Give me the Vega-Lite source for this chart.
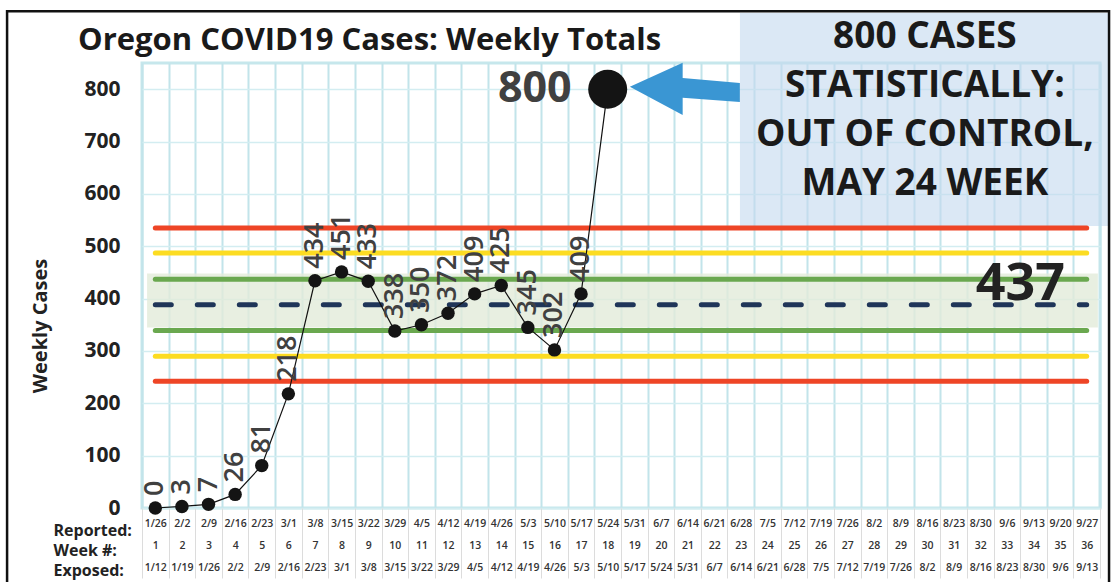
{
  "$schema": "https://vega.github.io/schema/vega-lite/v6.json",
  "width": 958,
  "height": 445,
  "autosize": {"type": "none"},
  "padding": {"left": 142, "top": 63, "right": 15, "bottom": 74},
  "background": "white",
  "title": {"text": "Oregon COVID19 Cases: Weekly Totals", "anchor": "start", "frame": "group", "dx": -64, "offset": -71, "baseline": "alphabetic", "font": "Open Sans", "fontSize": 31, "fontWeight": "bold", "color": "#1a1a1a"},
  "datasets": {
    "weeks": [
      {"week": 1, "reported": "1/26", "exposed": "1/12", "cases": 0},
      {"week": 2, "reported": "2/2", "exposed": "1/19", "cases": 3},
      {"week": 3, "reported": "2/9", "exposed": "1/26", "cases": 7},
      {"week": 4, "reported": "2/16", "exposed": "2/2", "cases": 26},
      {"week": 5, "reported": "2/23", "exposed": "2/9", "cases": 81},
      {"week": 6, "reported": "3/1", "exposed": "2/16", "cases": 218},
      {"week": 7, "reported": "3/8", "exposed": "2/23", "cases": 434},
      {"week": 8, "reported": "3/15", "exposed": "3/1", "cases": 451},
      {"week": 9, "reported": "3/22", "exposed": "3/8", "cases": 433},
      {"week": 10, "reported": "3/29", "exposed": "3/15", "cases": 338},
      {"week": 11, "reported": "4/5", "exposed": "3/22", "cases": 350},
      {"week": 12, "reported": "4/12", "exposed": "3/29", "cases": 372},
      {"week": 13, "reported": "4/19", "exposed": "4/5", "cases": 409},
      {"week": 14, "reported": "4/26", "exposed": "4/12", "cases": 425},
      {"week": 15, "reported": "5/3", "exposed": "4/19", "cases": 345},
      {"week": 16, "reported": "5/10", "exposed": "4/26", "cases": 302},
      {"week": 17, "reported": "5/17", "exposed": "5/3", "cases": 409},
      {"week": 18, "reported": "5/24", "exposed": "5/10", "cases": 800},
      {"week": 19, "reported": "5/31", "exposed": "5/17", "cases": null},
      {"week": 20, "reported": "6/7", "exposed": "5/24", "cases": null},
      {"week": 21, "reported": "6/14", "exposed": "5/31", "cases": null},
      {"week": 22, "reported": "6/21", "exposed": "6/7", "cases": null},
      {"week": 23, "reported": "6/28", "exposed": "6/14", "cases": null},
      {"week": 24, "reported": "7/5", "exposed": "6/21", "cases": null},
      {"week": 25, "reported": "7/12", "exposed": "6/28", "cases": null},
      {"week": 26, "reported": "7/19", "exposed": "7/5", "cases": null},
      {"week": 27, "reported": "7/26", "exposed": "7/12", "cases": null},
      {"week": 28, "reported": "8/2", "exposed": "7/19", "cases": null},
      {"week": 29, "reported": "8/9", "exposed": "7/26", "cases": null},
      {"week": 30, "reported": "8/16", "exposed": "8/2", "cases": null},
      {"week": 31, "reported": "8/23", "exposed": "8/9", "cases": null},
      {"week": 32, "reported": "8/30", "exposed": "8/16", "cases": null},
      {"week": 33, "reported": "9/6", "exposed": "8/23", "cases": null},
      {"week": 34, "reported": "9/13", "exposed": "8/30", "cases": null},
      {"week": 35, "reported": "9/20", "exposed": "9/6", "cases": null},
      {"week": 36, "reported": "9/27", "exposed": "9/13", "cases": null}
    ],
    "limits": [
      {"zone": "3 sigma", "limit": 535},
      {"zone": "2 sigma", "limit": 487},
      {"zone": "1 sigma", "limit": 437},
      {"zone": "mean", "limit": 388},
      {"zone": "1 sigma", "limit": 339},
      {"zone": "2 sigma", "limit": 290},
      {"zone": "3 sigma", "limit": 242}
    ]
  },
  "data": {"name": "weeks"},
  "layer": [
    {
      "data": {"values": [{}]},
      "mark": {"type": "rect", "fill": "#e2ebda", "opacity": 0.8},
      "encoding": {
        "x": {"datum": 0.69, "type": "quantitative"},
        "x2": {"datum": 36.42},
        "y": {"datum": 448, "type": "quantitative"},
        "y2": {"datum": 345}
      }
    },
    {
      "data": {"values": [{}]},
      "mark": {"type": "rect", "fill": "#c3d9ee", "opacity": 0.6},
      "encoding": {
        "x": {"datum": 22.97, "type": "quantitative"},
        "x2": {"datum": 36.8},
        "y": {"datum": 945.5, "type": "quantitative"},
        "y2": {"datum": 538.6}
      }
    },
    {
      "data": {"name": "limits"},
      "transform": [{"filter": "datum.zone != 'mean'"}],
      "mark": {"type": "rule", "strokeWidth": 5, "strokeCap": "round"},
      "encoding": {
        "x": {"datum": 1, "type": "quantitative"},
        "x2": {"datum": 36},
        "y": {"field": "limit", "type": "quantitative"},
        "color": {"field": "zone", "type": "nominal", "scale": {"domain": ["3 sigma", "2 sigma", "1 sigma"], "range": ["#ee4526", "#fcdc22", "#6aa84f"]}, "legend": null}
      }
    },
    {
      "data": {"values": [{}]},
      "mark": {"type": "text", "text": "437", "align": "right", "baseline": "alphabetic", "fontSize": 52, "fontWeight": "bold", "color": "#222222"},
      "encoding": {
        "x": {"datum": 35.18, "type": "quantitative"},
        "y": {"datum": 397.3, "type": "quantitative"}
      }
    },
    {
      "data": {"name": "limits"},
      "transform": [{"filter": "datum.zone == 'mean'"}],
      "mark": {"type": "rule", "strokeWidth": 5, "strokeCap": "round", "strokeDash": [16, 26], "color": "#1f3558"},
      "encoding": {
        "x": {"datum": 1, "type": "quantitative"},
        "x2": {"datum": 36},
        "y": {"field": "limit", "type": "quantitative"}
      }
    },
    {
      "mark": {"type": "line", "color": "#111111", "strokeWidth": 1.2},
      "encoding": {
        "x": {
          "field": "week", "type": "quantitative",
          "scale": {"domain": [0.5, 36.5], "nice": false, "zero": false},
          "axis": {
            "values": [0.5, 1.5, 2.5, 3.5, 4.5, 5.5, 6.5, 7.5, 8.5, 9.5, 10.5, 11.5, 12.5, 13.5, 14.5, 15.5, 16.5, 17.5, 18.5, 19.5, 20.5, 21.5, 22.5, 23.5, 24.5, 25.5, 26.5, 27.5, 28.5, 29.5, 30.5, 31.5, 32.5, 33.5, 34.5, 35.5, 36.5],
            "tickCount": 100,
            "labelExpr": "datum.value > 36 ? '' : [data('weeks')[datum.value - 0.5].reported, '' + data('weeks')[datum.value - 0.5].week, data('weeks')[datum.value - 0.5].exposed]",
            "labelOverlap": false,
            "title": ["Reported:", "Week #:", "Exposed:"]
          }
        },
        "y": {
          "field": "cases", "type": "quantitative",
          "scale": {"domain": [0, 850], "nice": false, "zero": false},
          "axis": {"values": [0, 100, 200, 300, 400, 500, 600, 700, 800], "tickCount": 20, "title": "Weekly Cases"}
        }
      }
    },
    {
      "mark": {"type": "circle", "color": "#141414", "opacity": 1},
      "encoding": {
        "x": {"field": "week", "type": "quantitative"},
        "y": {"field": "cases", "type": "quantitative"},
        "size": {"condition": {"test": "datum.week == 18", "value": 1520}, "value": 180}
      }
    },
    {
      "transform": [{"filter": "datum.week <= 17"}],
      "mark": {"type": "text", "angle": 270, "align": "left", "baseline": "middle", "dx": 12, "fontSize": 27, "fontWeight": 600, "color": "#404040"},
      "encoding": {
        "x": {"field": "week", "type": "quantitative"},
        "y": {"field": "cases", "type": "quantitative"},
        "text": {"field": "cases", "type": "quantitative"}
      }
    },
    {
      "transform": [{"filter": "datum.week == 18"}],
      "mark": {"type": "text", "align": "right", "baseline": "middle", "dx": -36, "fontSize": 43, "fontWeight": "bold", "color": "#404040"},
      "encoding": {
        "x": {"field": "week", "type": "quantitative"},
        "y": {"field": "cases", "type": "quantitative"},
        "text": {"field": "cases", "type": "quantitative"}
      }
    },
    {
      "data": {"values": [{}]},
      "mark": {"type": "point", "shape": "M-1,-0.03L-0.04,-0.47L-0.04,-0.19L1,-0.1L1,0.245L-0.04,0.17L-0.04,0.48Z", "filled": true, "color": "#3a96d3", "size": 12100, "opacity": 1, "strokeWidth": 0},
      "encoding": {
        "x": {"datum": 20.9, "type": "quantitative"},
        "y": {"datum": 801.3, "type": "quantitative"}
      }
    },
    {
      "data": {"values": [{}]},
      "mark": {"type": "text", "text": "800 CASES\nSTATISTICALLY:\nOUT OF CONTROL,\nMAY 24 WEEK", "lineBreak": "\n", "align": "center", "baseline": "alphabetic", "lineHeight": 49, "fontSize": 37, "fontWeight": "bold", "color": "#1a1a1a"},
      "encoding": {
        "x": {"datum": 29.92, "type": "quantitative"},
        "y": {"datum": 878.6, "type": "quantitative"}
      }
    },
    {
      "data": {"values": [{}]},
      "mark": {"type": "rect", "filled": false, "stroke": "#111111", "strokeWidth": 2.5},
      "encoding": {
        "x": {"datum": -4.57, "type": "quantitative"},
        "x2": {"datum": 36.84},
        "y": {"datum": 949, "type": "quantitative"},
        "y2": {"datum": -200}
      }
    }
  ],
  "config": {
    "font": "Open Sans",
    "view": {"stroke": "#c6e7ec", "strokeWidth": 3},
    "axisX": {
      "grid": true, "gridColor": "#c2e4ea", "gridWidth": 2, "domain": false,
      "ticks": true, "tickSize": 70, "tickColor": "#dcdcdc", "tickWidth": 1,
      "labelFontSize": 10.5, "labelFontWeight": 600, "labelColor": "#333333",
      "labelOffset": 13.3, "labelAlign": "center", "labelBaseline": "middle",
      "labelPadding": -54.7, "labelLineHeight": 22, "labelOverlap": false, "labelFlush": false, "labelBound": false,
      "titleFontSize": 16, "titleFontWeight": "bold", "titleColor": "#222222",
      "titleAlign": "left", "titleBaseline": "middle", "titleX": -89, "titleY": 22.5, "titleLineHeight": 20, "titleAngle": 0
    },
    "axisY": {
      "grid": true, "gridColor": "#d3edf1", "gridWidth": 1.5, "domain": false,
      "ticks": false, "tickSize": 0,
      "labelFontSize": 21, "labelFontWeight": "bold", "labelColor": "#222222", "labelPadding": 22,
      "titleFontSize": 20, "titleFontWeight": "bold", "titleColor": "#222222",
      "titleX": -92, "titleY": 262.5, "titleAngle": 270, "titleAlign": "center", "titleBaseline": "bottom"
    }
  }
}
